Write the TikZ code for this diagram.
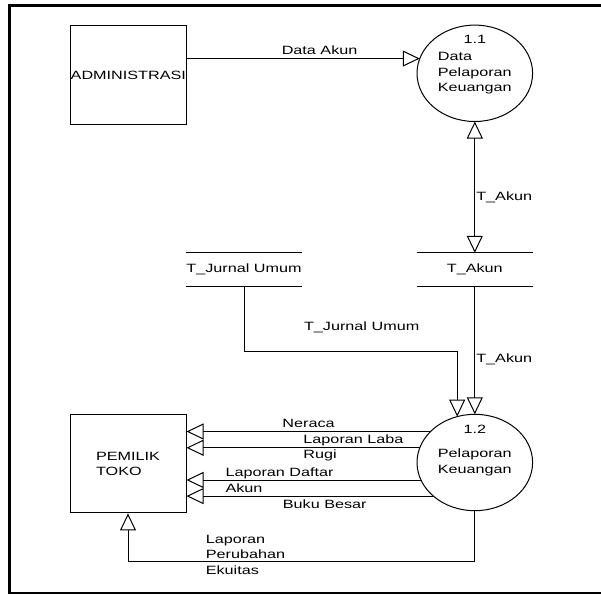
\documentclass[tikz,border=0pt]{standalone}
\usepackage{fontspec}
\setmainfont{Liberation Sans}[FakeStretch=1.35]
\usetikzlibrary{arrows.meta, shapes.geometric}

\begin{document}
\begin{tikzpicture}[x=1pt, y=-1pt, line width=1pt,
  font=\fontsize{12}{15.5}\selectfont,
  ent/.style={draw, rectangle, minimum width=116pt, minimum height=98pt, inner sep=0pt, align=left},
  proc/.style={draw, ellipse, minimum width=115.6pt, minimum height=96.4pt, inner sep=0pt, outer sep=0pt, align=left},
  store/.style={minimum width=115pt, minimum height=32.4pt, inner sep=0pt,
    append after command={\pgfextra{\draw (\tikzlastnode.north west) -- (\tikzlastnode.north east)
      (\tikzlastnode.south west) -- (\tikzlastnode.south east);}}},
  flow/.style={-{Triangle[open, length=17pt, width=16pt]}},
  dflow/.style={{Triangle[open, length=17pt, width=16pt]}-{Triangle[open, length=17pt, width=16pt]}},
  lbl/.style={inner sep=1pt, align=left}]
\useasboundingbox (0,0) rectangle (601,594);
\draw[line width=2.2pt] (601,5.5) -- (9.5,5.5) -- (9.5,592.7) -- (601,592.7);

\node[ent] (adm) at (128.3,75) {ADMINISTRASI};
\node[proc] (p11) at (474.8,73.3) {Data\\Pelaporan\\Keuangan};
\node (n11) at ([yshift=-14pt]p11.north) {1.1};
\node[store] (sj) at (244,269.5) {T\_Jurnal Umum};
\node[store] (sa) at (474.8,269.5) {T\_Akun};
\node[proc] (p12) at (474.8,462.5) {Pelaporan\\Keuangan};
\node (n12) at ([yshift=-14.7pt]p12.north) {1.2};
\node[ent] (own) at (128,463.9) {PEMILIK\\TOKO};

\draw[flow] (adm.east |- p11.165) -- node[above, pos=0.57] {Data Akun} (p11.165);
\draw[dflow] (p11.south) -- node[lbl, anchor=west, pos=0.58] {T\_Akun} (sa.north);
\draw[flow] (sa.south) -- node[lbl, anchor=west, pos=0.57] {T\_Akun} (p12.north);
\draw[flow] (sj.south) -- ++(0,65) -| node[pos=0.276, yshift=24pt] {T\_Jurnal Umum} (p12.111);

\draw[flow] (p12.145) -- node[above] {Neraca} (own.east |- p12.145);
\draw[flow] (p12.165) -- node[lbl, anchor=west, pos=0.505] {Laporan Laba\\Rugi} (own.east |- p12.165);
\draw[flow] (p12.198) -- node[lbl, anchor=west, pos=0.84] {Laporan Daftar\\Akun} (own.east |- p12.198);
\draw[flow] (p12.219) -- node[below, pos=0.44] {Buku Besar} (own.east |- p12.219);
\draw[flow] (p12.south) -- ++(0,51) -| node[lbl, anchor=west, pos=0.39, yshift=7pt] {Laporan\\Perubahan\\Ekuitas} (own.south);
\end{tikzpicture}
\end{document}
